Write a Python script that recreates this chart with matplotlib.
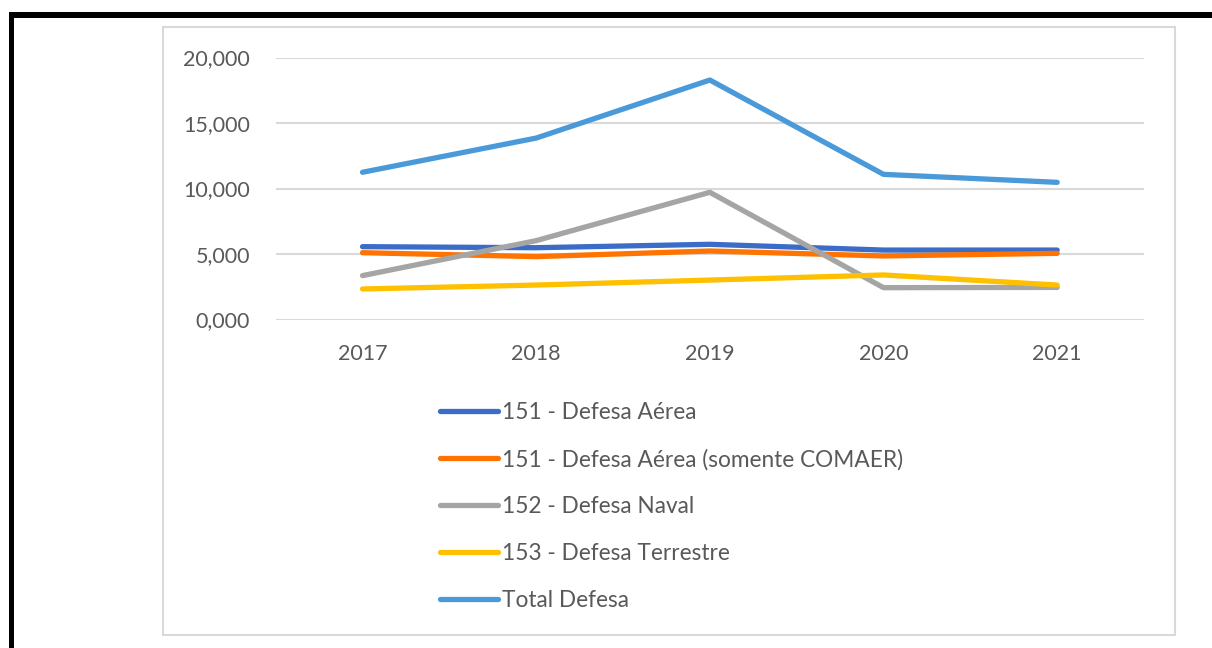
import matplotlib
matplotlib.use("Agg")
import matplotlib.pyplot as plt
from matplotlib.patches import Rectangle

years = ["2017", "2018", "2019", "2020", "2021"]
defesa_aerea = [5.56, 5.48, 5.74, 5.30, 5.30]
defesa_aerea_comaer = [5.10, 4.80, 5.23, 4.85, 5.05]
defesa_naval = [3.35, 6.02, 9.71, 2.43, 2.45]
defesa_terrestre = [2.33, 2.63, 3.01, 3.40, 2.63]
total_defesa = [11.24, 13.85, 18.28, 11.08, 10.47]
series_labels = ["151 - Defesa Aérea", "151 - Defesa Aérea (somente COMAER)",
                 "152 - Defesa Naval", "153 - Defesa Terrestre", "Total Defesa"]
yticks = [0, 5, 10, 15, 20]
ytick_labels = ["0,000", "5,000", "10,000", "15,000", "20,000"]

colors = ["#3b6cc7", "#ff7300", "#a5a5a5", "#ffc000", "#4a9ad9"]
txt = "#595959"
plt.rcParams['font.family'] = ['Lato', 'DejaVu Sans']

W, H = 1212, 648
fig = plt.figure(figsize=(W / 100, H / 100), dpi=100)

def fx(px):
    return px / W

def fy(py):
    return 1 - py / H

# outer black frame (top and left)
fig.add_artist(Rectangle((fx(9), fy(18)), fx(W - 9 + 5), 6 / H, transform=fig.transFigure,
                         facecolor="black", edgecolor="none"))
fig.add_artist(Rectangle((fx(9), fy(H + 5)), 5 / W, (H + 5 - 12) / H, transform=fig.transFigure,
                         facecolor="black", edgecolor="none"))
# inner chart box
fig.add_artist(Rectangle((fx(163), fy(635)), fx(1175 - 163), (635 - 27) / H, transform=fig.transFigure,
                         facecolor="none", edgecolor="#d9d9d9", lw=1.5))

ax = fig.add_axes([fx(275.7), fy(319.5), fx(1144 - 275.7), (319.5 - 57.5) / H])
x = list(range(len(years)))
all_series = [defesa_aerea, defesa_aerea_comaer, defesa_naval, defesa_terrestre, total_defesa]
handles = []
for s, c, lab in zip(all_series, colors, series_labels):
    h, = ax.plot(x, s, color=c, lw=3.8, solid_capstyle="round", solid_joinstyle="round", label=lab)
    handles.append(h)

ax.set_xlim(-0.5, len(years) - 0.5)
ax.set_ylim(0, 20)
ax.set_yticks(yticks)
ax.set_yticklabels(ytick_labels)
ax.set_xticks(x)
ax.set_xticklabels(years)
ax.tick_params(length=0, colors=txt, labelsize=15.5)
ax.tick_params(axis="y", pad=18.5)
ax.tick_params(axis="x", pad=18)
for sp in ax.spines.values():
    sp.set_visible(False)
ax.grid(axis="y", color="#d9d9d9", lw=1.5)
ax.set_axisbelow(True)

leg = fig.legend(handles=handles, labels=series_labels, loc="upper left",
                 bbox_to_anchor=(fx(440), fy(402)), frameon=False, fontsize=16.3,
                 handlelength=2.56, handletextpad=0.18, labelspacing=1.14,
                 borderpad=0, borderaxespad=0, labelcolor=txt)
for lh in leg.get_lines():
    lh.set_linewidth(3.8)

fig.savefig("out.png", dpi=100)
